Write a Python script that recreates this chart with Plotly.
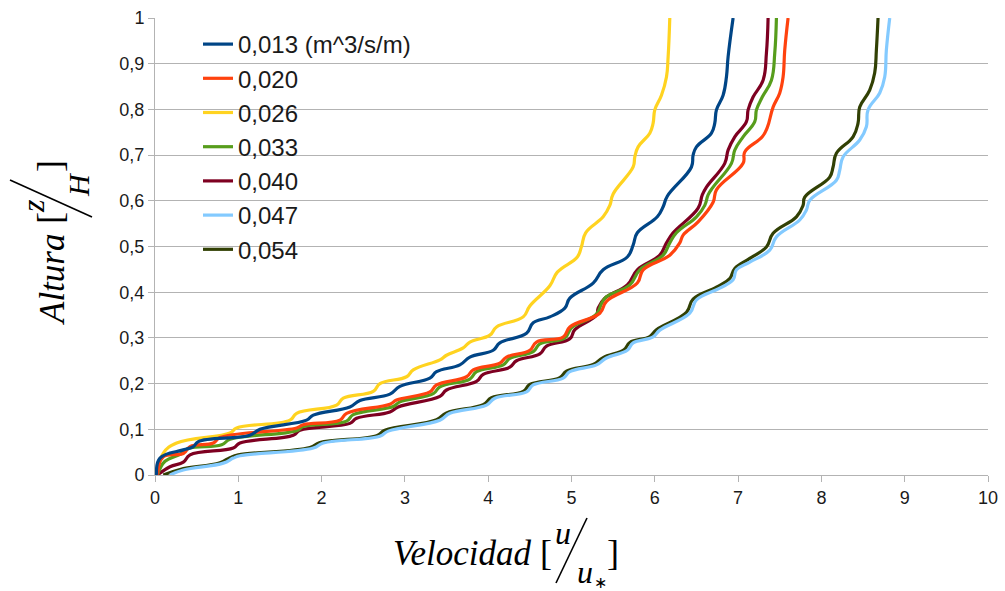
import plotly.graph_objects as go

# ---- data (velocity u/u*, height z/H) ----
names = ["0,013 (m^3/s/m)", "0,020", "0,026", "0,033", "0,040", "0,047", "0,054"]
colors = ["#004586", "#ff420e", "#ffd320", "#579d1c", "#7e0021", "#83caff", "#314004"]

u_013 = [0.02, 0.06, 0.34, 0.46, 0.52, 1.14, 1.26, 1.82, 1.9, 2.34, 2.46, 2.82, 2.94, 3.3, 3.38, 3.66, 3.78,
         4.06, 4.14, 4.46, 4.54, 4.74, 4.92, 4.98, 5.26, 5.38, 5.67, 5.74, 5.79, 6.03, 6.1, 6.15, 6.44, 6.46,
         6.5, 6.68, 6.72, 6.74, 6.82, 6.86, 6.88, 6.94]
z_013 = [0.0, 0.037, 0.055, 0.062, 0.073, 0.087, 0.1, 0.12, 0.131, 0.149, 0.163, 0.177, 0.194, 0.212, 0.226,
         0.241, 0.258, 0.273, 0.289, 0.31, 0.333, 0.346, 0.365, 0.387, 0.42, 0.449, 0.477, 0.503, 0.53, 0.565,
         0.587, 0.61, 0.674, 0.7, 0.718, 0.748, 0.77, 0.799, 0.831, 0.871, 0.915, 1.0]

u_020 = [0.03, 0.1, 0.34, 0.42, 0.7, 0.78, 1.7, 1.78, 2.22, 2.3, 2.82, 2.9, 3.3, 3.38, 3.74, 3.82, 4.14, 4.22,
         4.5, 4.58, 4.9, 4.98, 5.34, 5.42, 5.79, 5.86, 6.18, 6.3, 6.34, 6.52, 6.7, 6.74, 7.06, 7.08, 7.29, 7.35,
         7.42, 7.5, 7.54, 7.56, 7.6]
z_020 = [0.0, 0.04, 0.047, 0.062, 0.07, 0.082, 0.103, 0.11, 0.12, 0.135, 0.155, 0.164, 0.182, 0.197, 0.215,
         0.23, 0.245, 0.258, 0.273, 0.291, 0.302, 0.324, 0.354, 0.38, 0.42, 0.449, 0.481, 0.508, 0.525, 0.554,
         0.597, 0.624, 0.682, 0.707, 0.74, 0.76, 0.805, 0.836, 0.871, 0.93, 1.0]

u_026 = [0.02, 0.1, 0.26, 0.9, 0.98, 1.62, 1.7, 2.18, 2.26, 2.62, 2.7, 3.02, 3.1, 3.42, 3.5, 3.7, 3.78, 4.02,
         4.1, 4.42, 4.5, 4.74, 4.83, 5.07, 5.12, 5.17, 5.38, 5.46, 5.5, 5.74, 5.76, 5.8, 5.94, 5.98, 6.0, 6.08,
         6.14, 6.16, 6.18]
z_026 = [0.0, 0.048, 0.07, 0.092, 0.103, 0.12, 0.135, 0.153, 0.168, 0.183, 0.2, 0.215, 0.23, 0.252, 0.262,
         0.278, 0.291, 0.306, 0.324, 0.346, 0.37, 0.414, 0.444, 0.477, 0.5, 0.53, 0.565, 0.59, 0.615, 0.674,
         0.696, 0.718, 0.748, 0.77, 0.799, 0.831, 0.871, 0.915, 1.0]

u_033 = [0.03, 0.12, 0.3, 0.4, 0.8, 0.9, 1.7, 1.78, 2.3, 2.38, 2.86, 2.94, 3.34, 3.42, 3.78, 3.86, 4.18, 4.26,
         4.54, 4.62, 4.92, 5.0, 5.3, 5.36, 5.42, 5.7, 5.82, 6.1, 6.18, 6.26, 6.5, 6.6, 6.64, 6.7, 6.92, 6.96,
         7.06, 7.2, 7.22, 7.29, 7.4, 7.44, 7.46]
z_033 = [0.0, 0.03, 0.045, 0.058, 0.066, 0.078, 0.097, 0.106, 0.118, 0.132, 0.15, 0.16, 0.178, 0.193, 0.21,
         0.226, 0.241, 0.255, 0.27, 0.287, 0.3, 0.322, 0.352, 0.375, 0.39, 0.416, 0.449, 0.481, 0.508, 0.53,
         0.565, 0.59, 0.613, 0.63, 0.682, 0.711, 0.74, 0.773, 0.799, 0.827, 0.864, 0.923, 1.0]

u_040 = [0.03, 0.18, 0.34, 0.42, 0.94, 1.02, 1.66, 1.74, 2.34, 2.42, 2.82, 2.92, 3.42, 3.5, 3.86, 3.94, 4.26,
         4.34, 4.62, 4.7, 4.98, 5.04, 5.3, 5.32, 5.4, 5.67, 5.79, 6.06, 6.14, 6.22, 6.52, 6.57, 6.62, 6.84, 6.88,
         6.96, 7.1, 7.12, 7.18, 7.3, 7.34, 7.36]
z_040 = [0.0, 0.018, 0.028, 0.044, 0.059, 0.07, 0.087, 0.098, 0.113, 0.124, 0.138, 0.149, 0.172, 0.186, 0.205,
         0.22, 0.236, 0.25, 0.265, 0.282, 0.298, 0.318, 0.35, 0.365, 0.387, 0.416, 0.449, 0.481, 0.508, 0.53,
         0.584, 0.613, 0.63, 0.682, 0.711, 0.74, 0.773, 0.799, 0.827, 0.864, 0.923, 1.0]

u_047 = [0.18, 0.34, 0.82, 0.94, 1.02, 1.9, 2.02, 2.7, 2.8, 3.42, 3.54, 3.98, 4.08, 4.46, 4.54, 4.9, 4.98, 5.3,
         5.42, 5.67, 5.74, 5.98, 6.06, 6.42, 6.5, 6.78, 6.94, 6.98, 7.14, 7.38, 7.46, 7.74, 7.82, 7.86, 8.18,
         8.22, 8.26, 8.46, 8.54, 8.56, 8.7, 8.76, 8.78, 8.82]
z_047 = [0.0, 0.011, 0.026, 0.037, 0.042, 0.059, 0.07, 0.085, 0.096, 0.12, 0.135, 0.153, 0.168, 0.182, 0.197,
         0.212, 0.226, 0.241, 0.256, 0.273, 0.289, 0.302, 0.317, 0.354, 0.383, 0.409, 0.427, 0.449, 0.466, 0.492,
         0.521, 0.558, 0.58, 0.601, 0.645, 0.667, 0.696, 0.733, 0.762, 0.799, 0.836, 0.871, 0.93, 1.0]

u_054 = [0.1, 0.3, 0.78, 0.9, 1.0, 1.86, 1.98, 2.66, 2.76, 3.38, 3.5, 3.94, 4.04, 4.42, 4.5, 4.86, 4.94, 5.26,
         5.38, 5.63, 5.7, 5.94, 6.02, 6.38, 6.46, 6.74, 6.9, 6.96, 7.14, 7.34, 7.42, 7.7, 7.78, 7.8, 8.1, 8.14,
         8.18, 8.38, 8.44, 8.46, 8.58, 8.64, 8.66, 8.68]
z_054 = [0.0, 0.012, 0.027, 0.038, 0.044, 0.06, 0.071, 0.086, 0.098, 0.121, 0.136, 0.154, 0.169, 0.183, 0.198,
         0.213, 0.227, 0.242, 0.257, 0.274, 0.29, 0.303, 0.318, 0.356, 0.385, 0.411, 0.43, 0.452, 0.474, 0.499,
         0.529, 0.565, 0.59, 0.608, 0.652, 0.674, 0.704, 0.74, 0.77, 0.805, 0.842, 0.88, 0.93, 1.0]

y_ticks = [0, 0.1, 0.2, 0.3, 0.4, 0.5, 0.6, 0.7, 0.8, 0.9, 1.0]
y_tick_text = ["0", "0,1", "0,2", "0,3", "0,4", "0,5", "0,6", "0,7", "0,8", "0,9", "1"]
x_ticks = [0, 1, 2, 3, 4, 5, 6, 7, 8, 9, 10]

series_u = [u_013, u_020, u_026, u_033, u_040, u_047, u_054]
series_z = [z_013, z_020, z_026, z_033, z_040, z_047, z_054]

# ---- figure geometry ----
W, H = 1005, 591
L, R, T, B = 155, 17, 18, 116
PW, PH = W - L - R, H - T - B


def px(x):
    return (x - L) / PW


def py(y):
    return (H - B - y) / PH


fig = go.Figure()
# draw later series first so the first series sits on top (as in reference)
for i in reversed(range(len(names))):
    fig.add_trace(go.Scatter(
        x=series_u[i], y=series_z[i], name=names[i], mode="lines",
        line=dict(color=colors[i], width=3.2, shape="spline", smoothing=1.2),
    ))

tickfont = dict(family="Liberation Sans, Arial, sans-serif", size=18, color="#1a1a1a")
fig.update_layout(
    width=W, height=H,
    margin=dict(l=L, r=R, t=T, b=B, autoexpand=False),
    paper_bgcolor="white", plot_bgcolor="white",
    showlegend=True,
    legend=dict(x=px(198), y=py(22), xanchor="left", yanchor="top", traceorder="reversed",
                bgcolor="rgba(0,0,0,0)", font=dict(family="Liberation Sans, Arial, sans-serif",
                                                   size=24, color="#1a1a1a"),
                tracegroupgap=0, itemwidth=30),
    xaxis=dict(range=[0, 10], tickvals=x_ticks, showgrid=False, zeroline=False, automargin=False,
               showline=True, linecolor="#b3b3b3", linewidth=1, ticks="outside", ticklen=6,
               tickcolor="#b3b3b3", tickfont=tickfont),
    yaxis=dict(range=[0, 1], tickvals=y_ticks, ticktext=y_tick_text, showgrid=True, automargin=False,
               gridcolor="#b3b3b3", gridwidth=1, zeroline=False, showline=True,
               linecolor="#b3b3b3", linewidth=1, ticks="outside", ticklen=6, tickcolor="#b3b3b3",
               tickfont=tickfont),
)

serif = "Liberation Serif, Times New Roman, serif"


def ann(text, x, y, size, angle=0, italic=True):
    fig.add_annotation(
        text=("<i>%s</i>" % text) if italic else text,
        x=px(x), y=py(y), xref="paper", yref="paper", showarrow=False,
        xanchor="center", yanchor="middle", textangle=angle,
        font=dict(family=serif, size=size, color="black"),
    )


# x-axis title: Velocidad [u / u*]
fig.add_annotation(text="<i>Velocidad</i>", x=px(534), y=py(553), xref="paper", yref="paper",
                   showarrow=False, xanchor="right", yanchor="middle",
                   font=dict(family=serif, size=35, color="black"))
ann("[", 546, 553, 36, italic=False)
ann("u", 563, 533, 32)
ann("u", 585, 572, 32)
ann("∗", 600, 582, 16, italic=False)
ann("]", 613, 553, 36, italic=False)
fig.add_shape(type="line", xref="paper", yref="paper", x0=px(587), y0=py(518), x1=px(556), y1=py(583),
              line=dict(color="black", width=1.6))

# y-axis title: Altura [z / H]
ann("Altura", 52, 280, 35, angle=-90)
ann("[", 50, 218, 36, angle=-90, italic=False)
ann("z", 33, 206, 32, angle=-90)
ann("H", 78, 185, 30, angle=-90)
ann("]", 50, 166, 36, angle=-90, italic=False)
fig.add_shape(type="line", xref="paper", yref="paper", x0=px(10), y0=py(180), x1=px(92), y1=py(217),
              line=dict(color="black", width=1.6))

fig.write_html("out.html")
